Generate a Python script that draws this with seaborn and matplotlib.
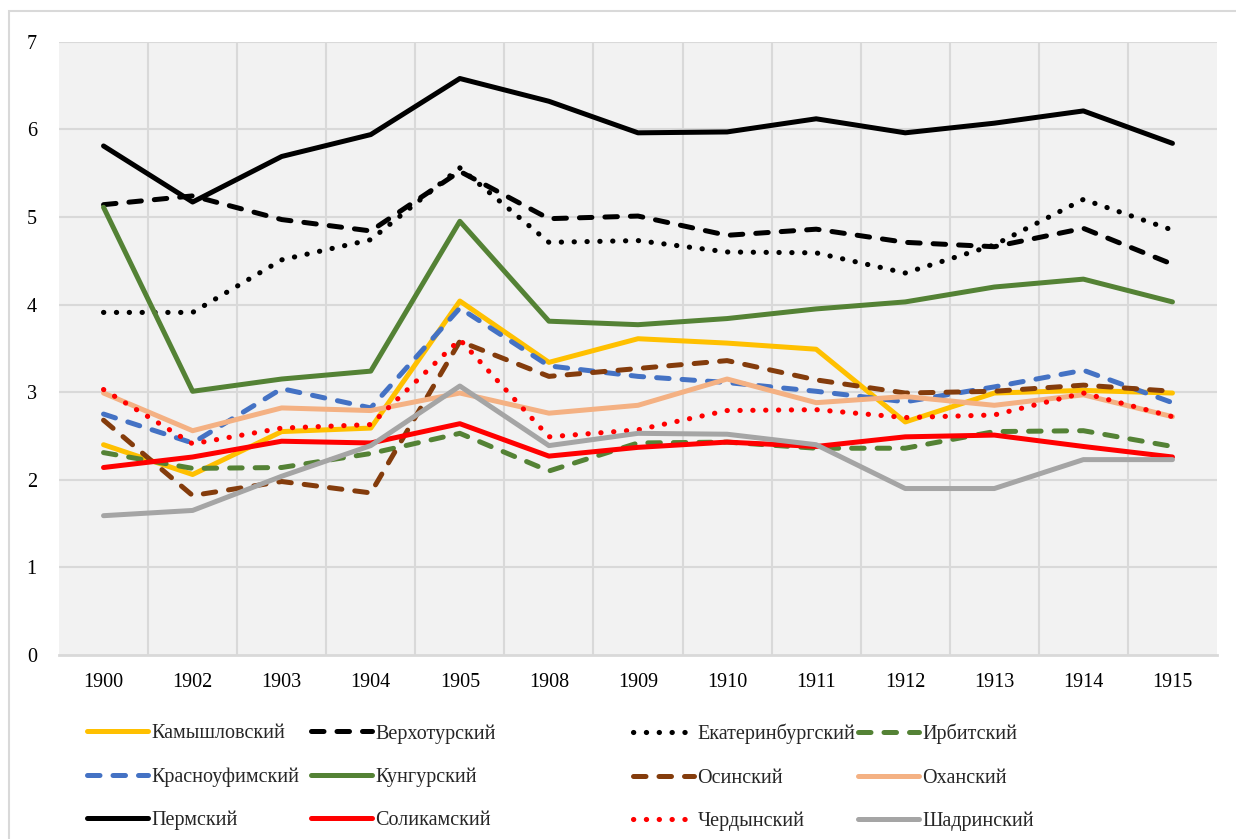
import matplotlib
matplotlib.use("Agg")
import matplotlib.pyplot as plt
from matplotlib.patches import Rectangle
import seaborn as sns

years = ["1900", "1902", "1903", "1904", "1905", "1908", "1909", "1910", "1911", "1912", "1913", "1914", "1915"]

kamyshlov = [2.40, 2.06, 2.55, 2.59, 4.04, 3.34, 3.61, 3.56, 3.49, 2.66, 2.99, 3.02, 2.99]
verkhoturye = [5.14, 5.24, 4.97, 4.84, 5.52, 4.98, 5.01, 4.79, 4.86, 4.71, 4.66, 4.87, 4.46]
ekaterinburg = [3.91, 3.91, 4.51, 4.74, 5.56, 4.71, 4.73, 4.60, 4.59, 4.36, 4.68, 5.20, 4.85]
irbit = [2.31, 2.13, 2.14, 2.30, 2.53, 2.10, 2.42, 2.43, 2.36, 2.36, 2.55, 2.56, 2.38]
krasnoufimsk = [2.75, 2.42, 3.04, 2.82, 3.96, 3.30, 3.18, 3.11, 3.01, 2.89, 3.06, 3.25, 2.88]
kungur = [5.11, 3.01, 3.15, 3.24, 4.95, 3.81, 3.77, 3.84, 3.95, 4.03, 4.20, 4.29, 4.03]
osa = [2.68, 1.82, 1.98, 1.85, 3.58, 3.18, 3.27, 3.36, 3.14, 2.99, 3.01, 3.08, 3.01]
okhansk = [2.99, 2.56, 2.82, 2.79, 2.99, 2.76, 2.85, 3.15, 2.88, 2.95, 2.85, 2.97, 2.72]
perm = [5.81, 5.17, 5.69, 5.94, 6.58, 6.32, 5.96, 5.97, 6.12, 5.96, 6.07, 6.21, 5.84]
solikamsk = [2.14, 2.26, 2.44, 2.42, 2.64, 2.27, 2.37, 2.43, 2.38, 2.49, 2.51, 2.38, 2.26]
cherdyn = [3.03, 2.41, 2.59, 2.63, 3.60, 2.49, 2.57, 2.79, 2.80, 2.71, 2.74, 2.99, 2.72]
shadrinsk = [1.59, 1.65, 2.04, 2.39, 3.07, 2.39, 2.53, 2.52, 2.40, 1.90, 1.90, 2.23, 2.23]

names = ["Камышловский", "Верхотурский", "Екатеринбургский", "Ирбитский",
         "Красноуфимский", "Кунгурский", "Осинский", "Оханский",
         "Пермский", "Соликамский", "Чердынский", "Шадринский"]
series = [kamyshlov, verkhoturye, ekaterinburg, irbit, krasnoufimsk, kungur,
          osa, okhansk, perm, solikamsk, cherdyn, shadrinsk]
colors = ["#FFC000", "#000000", "#000000", "#548235", "#4472C4", "#548235",
          "#843C0C", "#F4B183", "#000000", "#FF0000", "#FF0000", "#A5A5A5"]
styles = ["solid", "dash", "dot", "dash", "dash", "solid",
          "dash", "solid", "solid", "solid", "dot", "solid"]

sns.set_theme(style="white")
plt.rcParams["font.family"] = ["Liberation Serif", "DejaVu Serif"]

FS = 14.5

fig = plt.figure(figsize=(12.36, 8.39), dpi=100)
ax = fig.add_axes([59/1236, 1-655/839, (1217-59)/1236, (655-41.7)/839])
ax.set_facecolor("#F2F2F2")

LW = 3.6
handles = []
for name, vals, col, st in zip(names, series, colors, styles):
    if st == "solid":
        kw = dict(linestyle="-", linewidth=LW, solid_capstyle="round")
    elif st == "dash":
        kw = dict(linestyle=(0, (2.5, 2.6)), linewidth=LW, dash_capstyle="round")
    else:
        kw = dict(linestyle=(0, (0.05, 2.45)), linewidth=3.7, dash_capstyle="round")
    sns.lineplot(x=years, y=vals, ax=ax, color=col, label=name, sort=False, **kw)
    handles.append(ax.lines[-1])

if ax.get_legend():
    ax.get_legend().remove()

ax.set_xlim(-0.5, len(years) - 0.5)
ax.set_ylim(0, 7)
ax.set_yticks(range(0, 8))
for i in range(len(years) - 1):
    ax.axvline(i + 0.5, color="#D9D9D9", lw=1.5, zorder=0)
for v in range(1, 8):
    ax.axhline(v, color="#D9D9D9", lw=1.5, zorder=0)

for s in ["top", "right", "left"]:
    ax.spines[s].set_visible(False)
ax.spines["bottom"].set_color("#D9D9D9")
ax.spines["bottom"].set_linewidth(2)
ax.tick_params(axis="both", length=0, labelsize=FS, colors="#000000")
ax.tick_params(axis="x", pad=13)
ax.tick_params(axis="y", pad=16)
ax.set_xlabel("")
ax.set_ylabel("")

col_x = [87, 311, 633, 858]
for c in range(4):
    hs = [handles[c], handles[c + 4], handles[c + 8]]
    ls = [names[c], names[c + 4], names[c + 8]]
    fig.legend(hs, ls, loc="upper left", bbox_to_anchor=(col_x[c]/1236, 1-724/839),
               frameon=False, fontsize=FS, handlelength=3.05, handletextpad=0.15,
               borderpad=0, borderaxespad=0, labelspacing=1.2)

fig.patches.append(Rectangle((9/1236, -0.1), 1.2, 1-11/839+0.1, transform=fig.transFigure,
                             fill=False, edgecolor="#D9D9D9", linewidth=1.5))

fig.savefig("out.png", dpi=100)
